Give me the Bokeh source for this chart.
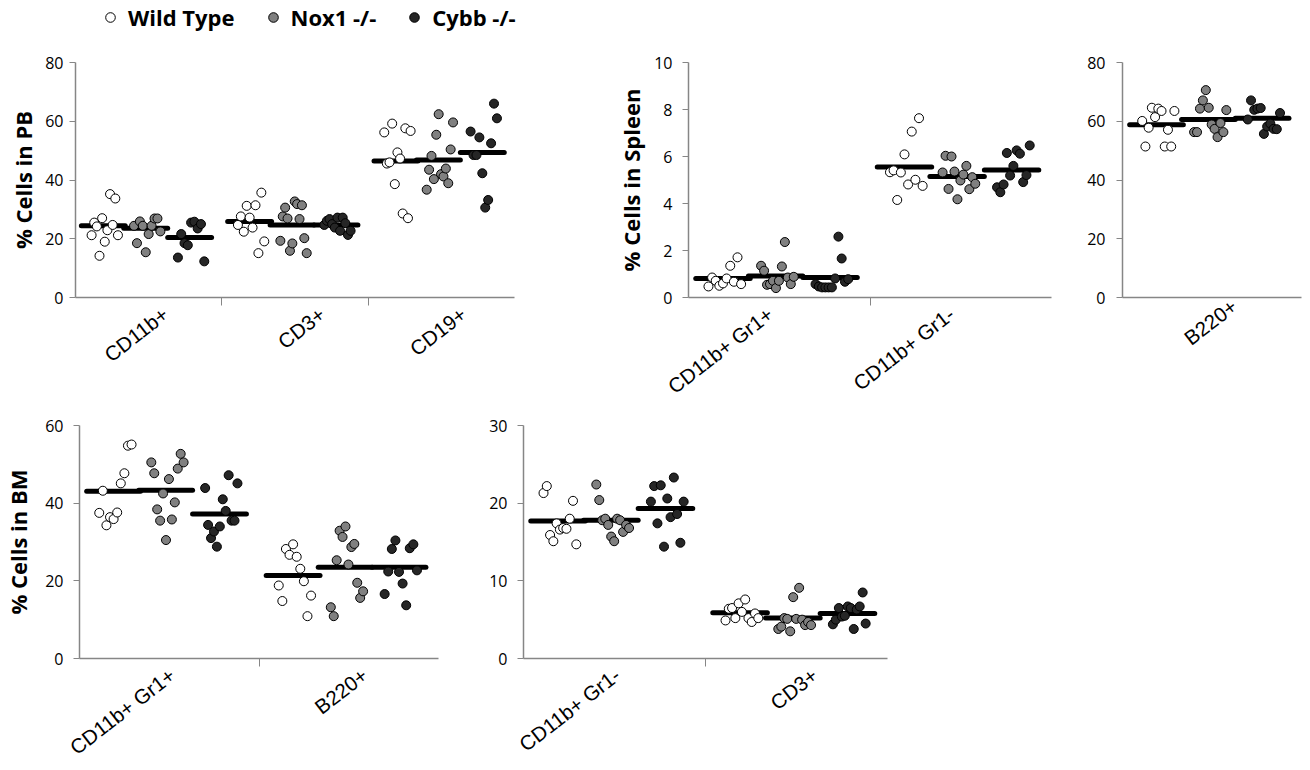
from bokeh.plotting import figure
from bokeh.models import Range1d, FixedTicker, Legend, LegendItem
from bokeh.layouts import row, column
from bokeh.embed import file_html
from bokeh.resources import INLINE

# ---------------- data ----------------
GROUPS = ["Wild Type", "Nox1 -/-", "Cybb -/-"]

PB_CATS = ["CD11b+", "CD3+", "CD19+"]
PB_WT = [[21.2, 25.5, 24.2, 14.2, 27.0, 19.0, 22.9, 35.2, 24.7, 33.7, 21.2],
         [24.7, 27.6, 22.4, 31.2, 27.2, 23.8, 31.4, 15.1, 35.7, 19.1],
         [56.2, 45.6, 46.0, 59.2, 38.6, 49.4, 47.3, 28.6, 57.6, 27.0, 56.7]]
PB_NOX1 = [[24.4, 18.5, 25.9, 24.4, 15.4, 21.6, 24.4, 26.9, 26.9, 22.5],
           [19.3, 27.6, 30.6, 26.9, 15.9, 18.4, 32.7, 31.8, 26.7, 31.4, 20.2, 15.1],
           [36.7, 43.5, 48.2, 40.3, 55.4, 62.4, 42.0, 41.2, 43.9, 38.9, 50.4, 59.6]]
PB_CYBB = [[13.6, 21.6, 18.5, 17.8, 25.5, 25.8, 23.5, 25.0, 12.3],
           [24.7, 26.1, 26.7, 25.0, 23.8, 27.2, 22.7, 27.2, 25.3, 21.3, 22.7],
           [56.5, 48.5, 48.5, 54.5, 42.3, 30.6, 33.2, 52.5, 66.0, 61.0]]
PB_MEANS = [[24.4, 25.9, 46.5], [23.6, 24.7, 46.8], [20.4, 24.7, 49.4]]

SP_CATS = ["CD11b+ Gr1+", "CD11b+ Gr1-"]
SP_WT = [[0.47, 0.85, 0.71, 0.50, 0.60, 0.81, 1.35, 0.67, 1.71, 0.57],
         [5.33, 5.41, 4.15, 5.32, 6.09, 4.81, 7.06, 5.01, 7.63, 4.75]]
SP_NOX1 = [[1.35, 1.14, 0.54, 0.57, 0.71, 0.40, 0.71, 1.32, 2.36, 0.85, 0.57, 0.88],
           [5.32, 6.03, 4.62, 6.00, 5.36, 4.18, 4.98, 5.23, 5.60, 4.61, 5.12, 4.84]]
SP_CYBB = [[0.57, 0.47, 0.43, 0.43, 0.43, 0.43, 0.81, 2.59, 1.66, 0.67, 0.78],
           [4.69, 4.48, 4.81, 6.15, 5.19, 5.60, 6.26, 6.12, 4.91, 5.21, 6.47]]
SP_MEANS = [[0.81, 5.55], [0.92, 5.15], [0.85, 5.43]]

SB_CATS = ["B220+"]
SB_WT = [[60.1, 51.4, 57.8, 64.6, 61.4, 64.3, 63.5, 51.4, 57.1, 51.4, 63.5]]
SB_NOX1 = [[56.3, 56.3, 64.3, 67.1, 70.6, 64.6, 58.9, 57.4, 54.6, 59.4, 56.3, 63.8]]
SB_CYBB = [[60.6, 67.1, 63.9, 64.3, 64.5, 55.7, 58.2, 59.2, 57.4, 57.3, 62.8]]
SB_MEANS = [[58.8], [60.6], [61.0]]

BM_CATS = ["CD11b+ Gr1+", "B220+"]
BM_WT = [[37.5, 43.2, 34.3, 36.4, 35.9, 37.6, 45.1, 47.7, 54.8, 55.1],
         [18.8, 14.8, 28.2, 26.7, 29.4, 26.2, 23.1, 19.9, 10.9, 16.2]]
BM_NOX1 = [[50.5, 47.7, 38.4, 35.5, 42.5, 30.5, 46.2, 35.8, 40.2, 48.9, 52.7, 50.5],
           [13.2, 10.9, 25.3, 32.9, 31.3, 34.0, 24.2, 28.7, 29.5, 19.5, 15.6, 17.3]]
BM_CYBB = [[43.9, 34.4, 31.0, 32.7, 28.8, 34.0, 41.0, 38.0, 47.2, 35.5, 35.5, 45.1],
           [16.6, 22.4, 28.2, 30.4, 22.3, 19.3, 13.7, 28.4, 29.4, 22.7]]
BM_MEANS = [[43.1, 21.4], [43.3, 23.5], [37.2, 23.5]]

BM2_CATS = ["CD11b+ Gr1-", "CD3+"]
BM2_WT = [[21.3, 22.2, 15.9, 15.1, 17.4, 16.6, 16.8, 16.7, 18.0, 20.3, 14.7],
          [4.9, 6.4, 6.5, 5.2, 7.1, 6.0, 7.6, 5.2, 4.7, 5.8, 5.2]]
BM2_NOX1 = [[22.4, 20.4, 17.8, 18.0, 17.2, 15.7, 15.1, 18.0, 17.8, 16.3, 17.2, 16.8],
            [3.8, 4.1, 5.2, 5.1, 3.5, 7.9, 5.1, 9.1, 5.0, 4.3, 4.7, 4.3]]
BM2_CYBB = [[20.2, 22.2, 17.4, 22.3, 14.4, 20.6, 18.2, 23.3, 18.6, 14.9, 20.2],
            [4.4, 5.0, 6.5, 5.4, 5.5, 6.7, 6.5, 3.8, 6.3, 6.7, 8.5, 4.5]]
BM2_MEANS = [[17.7, 5.9], [17.8, 5.2], [19.3, 5.8]]

# ---------------- styling / layout ----------------
FILLS = ["#ffffff", "#808080", "#262626"]
GROUP_CENTER = [-0.31, -0.02, 0.28]
MEAN_HALF = 0.15
SPREAD = (-0.08, 0.10)
AXIS_COLOR = "#868686"
LABEL_ANGLE = 0.66


def make_panel(cats, series, means, ymax, ystep, ylabel, width, height,
               borders, tick_standoff, title_standoff, label_pos):
    left, right, top, bottom = borders
    n = len(cats)
    p = figure(width=width, height=height, output_backend="svg",
               toolbar_location=None, x_range=Range1d(0, n),
               y_range=Range1d(0, ymax), min_border_left=left,
               min_border_right=right, min_border_top=top,
               min_border_bottom=bottom)
    p.xgrid.visible = False
    p.ygrid.visible = False
    p.outline_line_color = None

    for g in range(3):
        xc = [i + 0.5 + GROUP_CENTER[g] for i in range(n)]
        p.segment(x0=[x - MEAN_HALF for x in xc], x1=[x + MEAN_HALF for x in xc],
                  y0=means[g], y1=means[g], line_color="black", line_width=5,
                  line_cap="round")
    renderers = []
    for g in range(3):
        xs, ys = [], []
        for i in range(n):
            vals = series[g][i]
            m = len(vals)
            for j, v in enumerate(vals):
                t = j / (m - 1) if m > 1 else 0.5
                off = SPREAD[0] + (SPREAD[1] - SPREAD[0]) * t
                xs.append(i + 0.5 + GROUP_CENTER[g] + off)
                ys.append(v)
        r = p.scatter(x=xs, y=ys, size=9, marker="circle", fill_color=FILLS[g],
                      line_color="black", line_width=1)
        renderers.append(r)

    # label anchor: shorter labels sit further right of the category centre
    frame_w = width - left - right
    a, b = label_pos
    ticks = [i + 0.5 + (a - b * len(c)) / (frame_w / n) for i, c in enumerate(cats)]
    xa = p.xaxis[0]
    xa.ticker = FixedTicker(ticks=ticks, minor_ticks=[float(i) for i in range(1, n)])
    xa.major_label_overrides = {t: c for t, c in zip(ticks, cats)}
    xa.major_tick_line_color = None
    xa.major_tick_out = 0
    xa.major_tick_in = 0
    xa.minor_tick_in = 0
    xa.minor_tick_out = 8
    xa.minor_tick_line_color = AXIS_COLOR
    xa.axis_line_color = AXIS_COLOR
    xa.axis_line_width = 1.5
    xa.major_label_orientation = LABEL_ANGLE
    xa.major_label_text_font = "Liberation Sans"
    xa.major_label_text_font_size = "20.5px"
    xa.major_label_text_color = "#000000"
    xa.major_label_standoff = 6

    ya = p.yaxis[0]
    ya.ticker = FixedTicker(ticks=list(range(0, ymax + 1, ystep)))
    ya.major_tick_out = 6
    ya.major_tick_in = 0
    ya.minor_tick_out = 0
    ya.minor_tick_in = 0
    ya.major_tick_line_color = AXIS_COLOR
    ya.axis_line_color = AXIS_COLOR
    ya.axis_line_width = 1.5
    ya.major_label_text_font = "Open Sans"
    ya.major_label_text_font_size = "16px"
    ya.major_label_text_color = "#000000"
    ya.major_label_standoff = tick_standoff
    if ylabel:
        ya.axis_label = ylabel
        ya.axis_label_text_font = "Open Sans"
        ya.axis_label_text_font_style = "bold"
        ya.axis_label_text_font_size = "22px"
        ya.axis_label_text_color = "#000000"
        ya.axis_label_standoff = title_standoff
    return p, renderers


TOP_LABELS = (48, 5.2)
BOTTOM_LABELS = (27, 2.2)

pA, rA = make_panel(PB_CATS, [PB_WT, PB_NOX1, PB_CYBB], PB_MEANS, 80, 20,
                    "% Cells in PB", 538, 372, (75, 24, 22, 115), 6, 4, TOP_LABELS)
pB, _ = make_panel(SP_CATS, [SP_WT, SP_NOX1, SP_CYBB], SP_MEANS, 10, 2,
                   "% Cells in Spleen", 520, 372, (150, 7, 22, 115), 10, 5, TOP_LABELS)
pC, _ = make_panel(SB_CATS, [SB_WT, SB_NOX1, SB_CYBB], SB_MEANS, 80, 20,
                   None, 252, 372, (64, 9, 22, 115), 11, 0, TOP_LABELS)
pD, _ = make_panel(BM_CATS, [BM_WT, BM_NOX1, BM_CYBB], BM_MEANS, 60, 20,
                   "% Cells in BM", 458, 358, (74, 20, 13, 111), 10, 9, BOTTOM_LABELS)
pE, _ = make_panel(BM2_CATS, [BM2_WT, BM2_NOX1, BM2_CYBB], BM2_MEANS, 30, 10,
                   None, 440, 358, (65, 11, 13, 111), 10, 0, BOTTOM_LABELS)

# legend strip: its own small figure; its glyph renderers share the PB data
# sources but that data lies outside this strip's (empty) view
pL = figure(width=538, height=40, output_backend="svg", toolbar_location=None,
            x_range=Range1d(0, 1), y_range=Range1d(-2, -1), min_border=0)
pL.axis.visible = False
pL.grid.visible = False
pL.outline_line_color = None
leg_r = [pL.scatter(x="x", y="y", source=r.data_source, size=9, marker="circle",
                    fill_color=FILLS[g], line_color="black", line_width=1)
         for g, r in enumerate(rA)]
legend = Legend(items=[LegendItem(label=g, renderers=[r]) for g, r in zip(GROUPS, leg_r)],
                orientation="horizontal", location=(98, 8),
                glyph_width=24, glyph_height=24, label_standoff=6, spacing=26,
                padding=0, margin=0, border_line_color=None,
                background_fill_alpha=0, label_text_font="Open Sans",
                label_text_font_style="bold", label_text_font_size="22px",
                label_text_color="#000000", label_height=24)
pL.add_layout(legend)

layout = column(pL, row(pA, pB, pC), row(pD, pE))
open("out.html", "w").write(file_html(layout, INLINE))
